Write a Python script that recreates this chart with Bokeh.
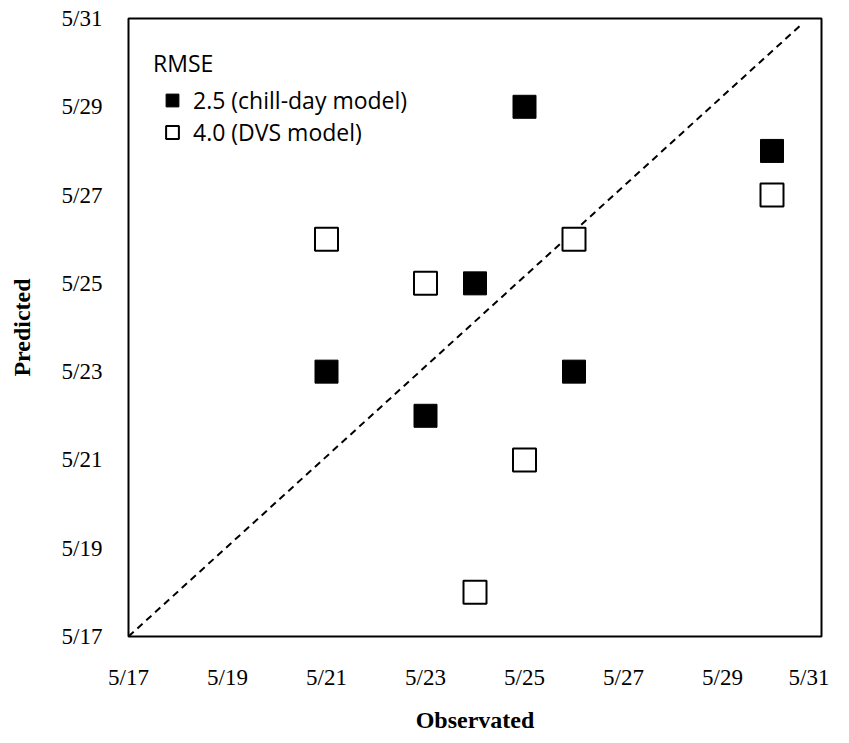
from bokeh.plotting import figure
from bokeh.models import Range1d, FixedTicker, Legend, LegendItem
from bokeh.embed import file_html
from bokeh.resources import INLINE

# ---- data (day of May) ----
tick_days = [17, 19, 21, 23, 25, 27, 29, 31]
tick_labels = ["5/17", "5/19", "5/21", "5/23", "5/25", "5/27", "5/29", "5/31"]

obs_chill = [21, 23, 24, 25, 26, 30]
pred_chill = [23, 22, 25, 29, 23, 28]

obs_dvs = [21, 23, 24, 25, 26, 30]
pred_dvs = [26, 25, 18, 21, 26, 27]

ref_obs = [17, 30.6]
ref_pred = [17, 30.87]

legend_title = "RMSE"
legend_labels = ["2.5 (chill-day model)", "4.0 (DVS model)"]
x_title = "Observated"
y_title = "Predicted"

SERIF = "Liberation Serif"
SANS = "Open Sans"

p = figure(
    width=829, height=735,
    x_range=Range1d(17, 31), y_range=Range1d(17, 31),
    output_backend="svg", toolbar_location=None,
    min_border_left=128, min_border_top=18, min_border_right=8, min_border_bottom=98,
    background_fill_color="white", border_fill_color="white",
)
p.outline_line_color = "black"
p.outline_line_width = 2
p.xgrid.visible = False
p.ygrid.visible = False

for ax in (p.xaxis[0], p.yaxis[0]):
    ax.ticker = FixedTicker(ticks=tick_days)
    ax.major_label_overrides = {d: lab for d, lab in zip(tick_days, tick_labels)}
    ax.axis_line_color = None
    ax.major_tick_line_color = None
    ax.minor_tick_line_color = None
    ax.major_label_text_font = SERIF
    ax.major_label_text_font_size = "23px"
    ax.major_label_text_color = "black"
    ax.axis_label_text_font = SERIF
    ax.axis_label_text_font_style = "bold"
    ax.axis_label_text_font_size = "24px"
    ax.axis_label_text_color = "black"

p.xaxis.axis_label = x_title
p.yaxis.axis_label = y_title
p.xaxis.major_label_standoff = 22
p.xaxis.axis_label_standoff = 14
p.yaxis.major_label_standoff = 20
p.yaxis.axis_label_standoff = 24

p.line(ref_obs, ref_pred, line_color="black", line_width=2, line_dash="7 5")

r_chill = p.scatter(obs_chill, pred_chill, marker="square", size=23,
                    fill_color="black", line_color="black", line_width=1)
r_dvs = p.scatter(obs_dvs, pred_dvs, marker="square", size=23,
                  fill_color="white", line_color="black", line_width=2)

legend = Legend(
    items=[LegendItem(label=legend_labels[0], renderers=[r_chill]),
           LegendItem(label=legend_labels[1], renderers=[r_dvs])],
    title=legend_title,
    location=(25, 488),
    orientation="vertical",
    border_line_color=None,
    background_fill_alpha=0,
    padding=0, margin=0,
    glyph_width=38, glyph_height=32, spacing=0,
    label_standoff=2,
    title_standoff=5,
    label_text_font=SANS, label_text_font_size="23px", label_text_color="black",
    title_text_font=SANS, title_text_font_size="23px", title_text_color="black",
    title_text_font_style="normal",
)
p.add_layout(legend, "center")

open("out.html", "w").write(file_html(p, INLINE))
